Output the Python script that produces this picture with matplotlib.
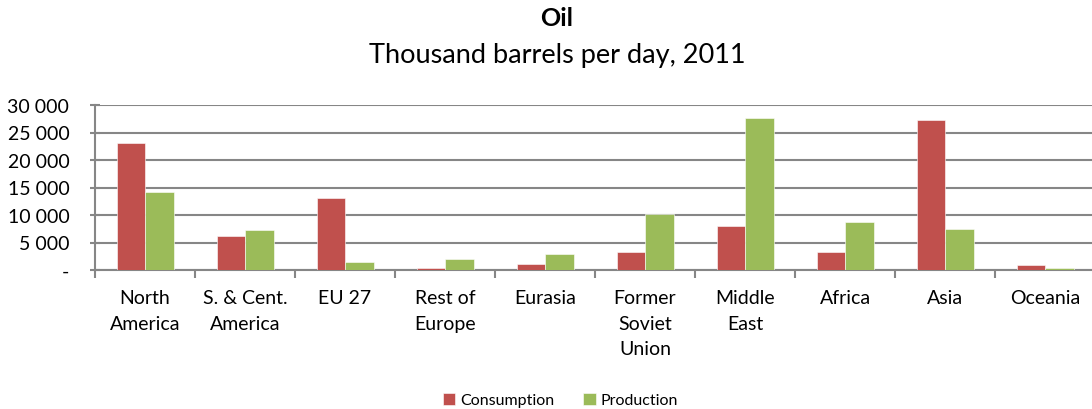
import numpy as np
import matplotlib
matplotlib.use("Agg")
import matplotlib.pyplot as plt
from matplotlib.ticker import FuncFormatter

regions = ["North\nAmerica", "S. & Cent.\nAmerica", "EU 27", "Rest of\nEurope", "Eurasia",
           "Former\nSoviet\nUnion", "Middle\nEast", "Africa", "Asia", "Oceania"]
consumption = [23100, 6200, 13100, 400, 1100, 3350, 8000, 3200, 27200, 900]
production = [14200, 7300, 1500, 1950, 3000, 10150, 27600, 8700, 7450, 380]

red = "#C0504D"
green = "#9BBB59"
grid_col = "#868686"

plt.rcParams["font.family"] = ["Lato", "DejaVu Sans"]

fig = plt.figure(figsize=(10.92, 4.10), dpi=100)
ax = fig.add_axes([95 / 1092, 139 / 410, 1000 / 1092, 165 / 410])

x = np.arange(len(regions))
w = 0.285
ax.bar(x - w / 2, consumption, w, color=red, edgecolor="white", linewidth=0.4,
       label="Consumption", zorder=3)
ax.bar(x + w / 2, production, w, color=green, edgecolor="white", linewidth=0.4,
       label="Production", zorder=3)

ax.set_xlim(-0.5, len(regions) - 0.5)
ax.set_ylim(0, 30000)
ax.set_yticks(np.arange(0, 30001, 5000))

def thousands(v, pos):
    if v == 0:
        return "-"
    return f"{int(v):,}".replace(",", " ")

ax.yaxis.set_major_formatter(FuncFormatter(thousands))
ax.yaxis.grid(True, color=grid_col, linewidth=1.5, zorder=0)
ax.set_axisbelow(True)

# category labels centred, tick marks on the boundaries
ax.set_xticks(x)
ax.set_xticklabels(regions, fontsize=14, linespacing=1.6, va="top")
ax.set_xticks(np.arange(-0.5, len(regions)), minor=True)
ax.tick_params(axis="x", which="major", length=0, pad=14)
ax.tick_params(axis="x", which="minor", length=6, width=1.5, color=grid_col, direction="out")
ax.tick_params(axis="y", length=7, width=1.5, color=grid_col, direction="inout",
               labelsize=14, pad=15)

for side in ["top", "right"]:
    ax.spines[side].set_visible(False)
for side in ["left", "bottom"]:
    ax.spines[side].set_color(grid_col)
    ax.spines[side].set_linewidth(1.5)

fig.text(0.51, 0.955, "Oil", ha="center", va="center", fontsize=18, fontweight="bold")
fig.text(0.51, 0.865, "Thousand barrels per day, 2011", ha="center", va="center", fontsize=19.5)

fig.legend(loc="center", bbox_to_anchor=(0.513, 0.022), ncol=2, frameon=False,
           fontsize=11.5, handlelength=0.8, handleheight=0.8, handletextpad=0.3,
           columnspacing=1.8)

fig.savefig("out.png", dpi=100)
